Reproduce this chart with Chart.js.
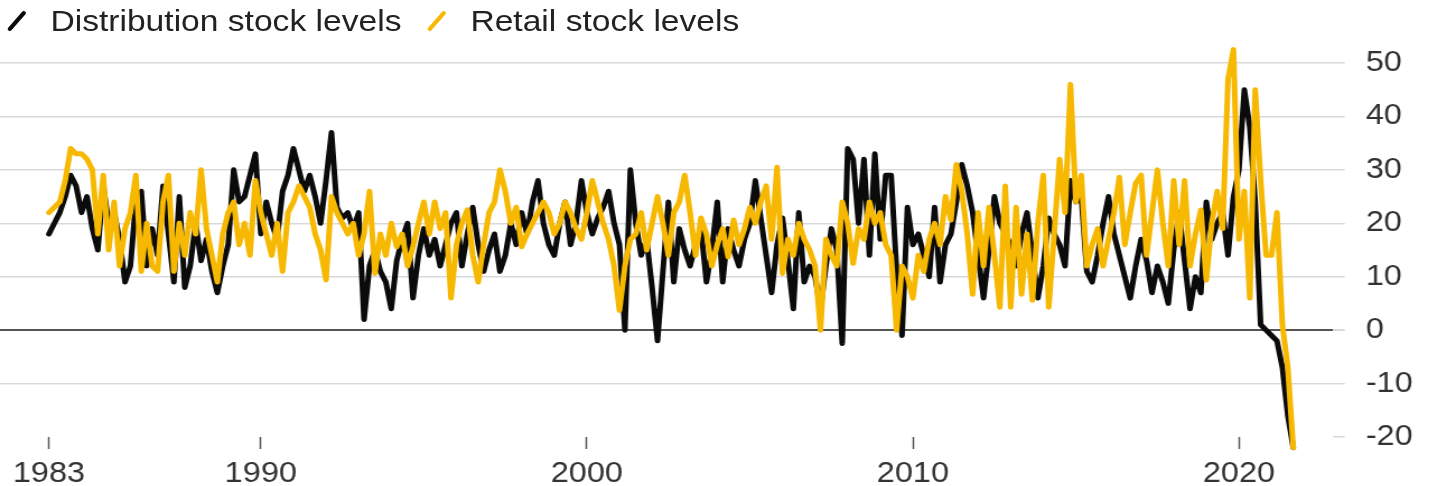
<!DOCTYPE html>
<html>
<head>
<meta charset="utf-8">
<script src="https://cdn.jsdelivr.net/npm/chart.js@4.4.0/dist/chart.umd.min.js"></script>
<style>
  html, body { margin: 0; padding: 0; background: #fff; overflow: hidden; }
  /* the whole figure is drawn 1277px wide and stretched out to 1430px */
  #stage { position: relative; width: 1277px; height: 486px;
    transform: scaleX(1.12); transform-origin: 0 0; }
  #chart { display: block; }
  #legend { position: absolute; left: 0; top: 0; width: 100%; height: 40px;
    font: 30px "Liberation Sans", Arial, sans-serif; color: #222; }
  .item { position: absolute; top: 6px; line-height: 30px; white-space: nowrap; }
  .swatch { display: inline-block; width: 4px; height: 24px; border-radius: 2px;
    transform: rotate(38deg); vertical-align: -2px; margin-right: 28px; }
</style>
</head>
<body>
<div id="stage">
  <canvas id="chart" width="1277" height="486"></canvas>
  <div id="legend"></div>
</div>
<script>
// Two-monthly readings, first one in mid-1983
const firstYear = 1983.5;
const stepYears = 2 / 12;

const tickYears = [1983, 1990, 2000, 2010, 2020];
const valueTicks = [-20, -10, 0, 10, 20, 30, 40, 50];

const seriesNames = ["Distribution stock levels", "Retail stock levels"];

const distribution = [
  18, 20, 22, 25, 29, 27, 22, 25, 19, 15, 27, 20, 22, 17, 9, 12, 24, 26, 12, 19,
  14, 27, 18, 9, 25, 8, 12, 20, 13, 17, 11, 7, 12, 16, 30, 24, 25, 29, 33, 18,
  24, 20, 17, 26, 29, 34, 30, 26, 29, 25, 20, 28, 37, 23, 21, 22, 19, 22, 2, 12,
  15, 11, 9, 4, 13, 17, 20, 6, 14, 19, 14, 17, 12, 16, 20, 22, 12, 18, 23, 16,
  11, 15, 18, 11, 14, 20, 16, 22, 18, 24, 28, 20, 16, 14, 20, 24, 16, 20, 28, 22,
  18, 21, 23, 26, 20, 16, 0, 30, 20, 14, 17, 8, -2, 11, 24, 9, 19, 15, 12, 16,
  19, 9, 15, 24, 9, 19, 15, 12, 17, 20, 28, 21, 14, 7, 16, 21, 13, 4, 22, 9,
  12, 10, 4, 12, 19, 15, -2.5, 34, 32, 20, 32, 14, 33, 17, 29, 29, 11, -1, 23, 16,
  18, 14, 10, 23, 9, 16, 18, 24, 31, 27, 22, 14, 6, 15, 25, 20, 18, 16, 12, 18,
  22, 14, 6, 12, 21, 18, 16, 12, 28, 24, 25, 11, 9, 14, 20, 25, 18, 14, 10, 6,
  12, 17, 13, 7, 12, 9, 5, 15, 22, 13, 4, 10, 7, 24, 17, 20, 22, 14, 25, 30,
  45, 38, 24, 1, 0, -1, -2, -7, -16, -22,
];

const retail = [
  22, 23, 24, 28, 34, 33, 33, 32, 30, 18, 29, 15, 24, 12, 19, 22, 29, 11, 20, 12,
  11, 24, 29, 11, 20, 14, 22, 18, 30, 19, 14, 9, 18, 22, 24, 16, 20, 14, 28, 22,
  18, 14, 20, 11, 22, 24, 27, 25, 23, 18, 15, 9.4, 25, 22, 20, 18, 20, 14, 18, 26,
  10.6, 18, 14, 20, 15.6, 18, 12, 15.6, 20, 24, 18, 24, 19, 22, 6, 16, 20, 22.5, 14, 9,
  16, 22, 24, 30, 26, 20, 23, 15.6, 18, 20, 22, 24, 22, 18, 20, 24, 22, 19, 17, 22,
  28, 24, 20, 17, 12, 3.7, 12, 17, 18, 22, 15, 20, 25, 20, 14, 22, 24, 29, 22, 14,
  21, 18, 12, 16, 19, 13.7, 20.6, 16, 19, 23, 20, 24, 27, 17, 30.5, 10.6, 17, 14, 20, 17,
  15, 12, 0, 17, 14, 12, 24, 20, 12.5, 19, 17, 24, 20, 22, 16, 14, 0, 12, 10, 6,
  14, 11, 17, 20, 16, 25, 20.6, 31, 26, 18, 6.7, 22, 12, 23, 14, 4.3, 27, 4.3, 23, 6.7,
  18, 5.6, 20, 29, 4.3, 18, 32, 22, 46, 24, 29, 12, 16, 19, 12, 17, 22, 28.6, 16, 22,
  27.5, 29, 14, 22, 30, 20, 12, 28, 16, 28, 12, 18, 22.5, 9.4, 20, 26, 19, 47, 52.5, 17,
  26, 6, 45, 28, 14, 14, 22, 1, -7, -22,
];

const colors = ["#0b0b0b", "#f6b800"];

function toPoints(values) {
  return values.map((v, i) => ({ x: firstYear + i * stepYears, y: v }));
}

const legendEl = document.getElementById("legend");
const legendLeft = [13, 388];
seriesNames.forEach((name, i) => {
  const item = document.createElement("div");
  item.className = "item";
  item.style.left = legendLeft[i] + "px";
  item.innerHTML = `<span class="swatch" style="background:${colors[i]}"></span>${name}`;
  legendEl.appendChild(item);
});

const axisFont = { family: "'Liberation Sans', Arial, sans-serif", size: 29 };

new Chart(document.getElementById("chart"), {
  type: "line",
  data: {
    datasets: [
      { label: seriesNames[0], data: toPoints(distribution), borderColor: colors[0], order: 2, clip: false },
      { label: seriesNames[1], data: toPoints(retail), borderColor: colors[1], order: 1, clip: false },
    ],
  },
  options: {
    responsive: false,
    animation: false,
    devicePixelRatio: 1,
    layout: { padding: { top: 38, left: 0, right: 0, bottom: 0 } },
    elements: {
      line: { borderWidth: 5, tension: 0, borderJoinStyle: "round", borderCapStyle: "round" },
      point: { radius: 0 },
    },
    plugins: { legend: { display: false }, tooltip: { enabled: false } },
    scales: {
      x: {
        type: "linear",
        min: 1982,
        max: 2022.88,
        afterBuildTicks: s => { s.ticks = tickYears.map(y => ({ value: Math.max(y, firstYear) })); },
        afterFit: s => { s.height = 49; },
        border: { display: false },
        grid: { drawOnChartArea: false, drawTicks: true, tickLength: 12, tickColor: "#555", tickWidth: 1.5 },
        ticks: {
          font: axisFont, color: "#333", padding: 7.5, maxRotation: 0, autoSkip: false,
          callback: v => String(Math.floor(v)),
        },
      },
      y: {
        position: "right",
        min: -20,
        max: 54.68,
        afterBuildTicks: s => { s.ticks = valueTicks.map(v => ({ value: v })); },
        afterFit: s => { s.width = 87; },
        border: { display: false },
        grid: {
          color: c => c.tick.value === 0 ? "#555" : c.tick.value === -20 ? "rgba(0,0,0,0)" : "#d9d9d9",
          lineWidth: c => c.tick.value === 0 ? 2 : 1.5,
          tickColor: "#d9d9d9",
          tickLength: 10.7,
        },
        ticks: { font: axisFont, color: "#333", padding: 18.7, crossAlign: "near" },
      },
    },
  },
});
</script>
</body>
</html>
